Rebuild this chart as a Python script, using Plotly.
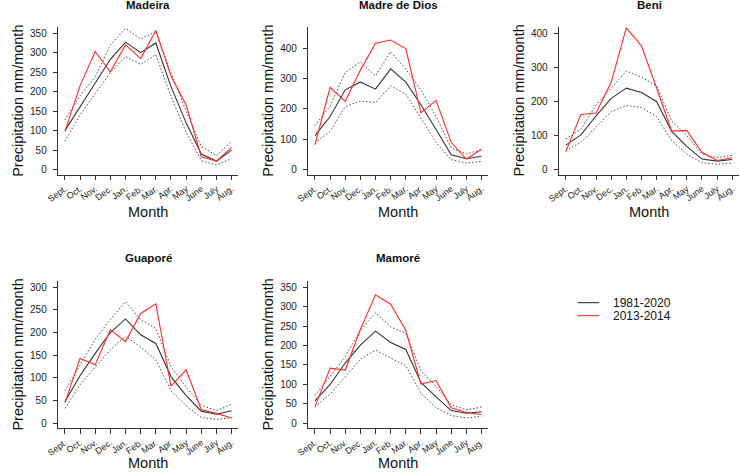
import plotly.graph_objects as go

# month order of the hydrological year
month_labels = ["Sept.", "Oct.", "Nov.", "Dec.", "Jan.", "Feb.", "Mar.", "Apr.", "May", "June", "July", "Aug."]
month_num = list(range(1, 13))

basins = ["Madeira", "Madre de Dios", "Beni", "Guaporé", "Mamoré"]
series_names = ["1981-2020", "2013-2014"]

madeira_mean = [100, 160, 220, 283, 327, 300, 325, 213, 120, 40, 22, 50]
madeira_2013 = [98, 215, 303, 251, 320, 285, 357, 240, 166, 33, 22, 57]
madeira_upper = [128, 190, 238, 320, 362, 335, 354, 249, 150, 60, 36, 73]
madeira_lower = [73, 141, 195, 249, 290, 270, 295, 188, 96, 23, 12, 28]

mdd_mean = [112, 175, 263, 289, 265, 332, 288, 214, 132, 49, 36, 44]
mdd_2013 = [82, 271, 225, 327, 416, 427, 399, 187, 228, 90, 35, 67]
mdd_upper = [145, 210, 320, 355, 309, 388, 331, 263, 175, 71, 52, 65]
mdd_lower = [88, 126, 208, 226, 221, 276, 249, 170, 90, 33, 22, 27]

beni_mean = [72, 102, 158, 209, 239, 226, 200, 112, 68, 31, 25, 30]
beni_2013 = [53, 162, 166, 256, 416, 363, 240, 113, 115, 51, 27, 35]
beni_upper = [90, 119, 190, 239, 289, 271, 246, 142, 100, 46, 35, 42]
beni_lower = [56, 80, 125, 170, 188, 182, 156, 85, 45, 20, 16, 20]

guapore_mean = [48, 105, 154, 200, 230, 195, 176, 103, 61, 27, 20, 28]
guapore_2013 = [45, 143, 129, 206, 180, 242, 263, 82, 118, 30, 22, 12]
guapore_upper = [72, 128, 185, 229, 268, 228, 209, 125, 80, 40, 28, 42]
guapore_lower = [33, 85, 124, 162, 192, 168, 140, 72, 39, 13, 9, 12]

mamore_mean = [58, 100, 155, 201, 237, 208, 190, 105, 68, 33, 26, 30]
mamore_2013 = [43, 142, 137, 241, 330, 306, 239, 101, 110, 40, 28, 23]
mamore_upper = [72, 120, 172, 240, 284, 248, 231, 135, 95, 48, 35, 42]
mamore_lower = [43, 75, 120, 165, 188, 168, 148, 78, 40, 20, 14, 18]

panels = [
    (madeira_mean, madeira_2013, madeira_upper, madeira_lower),
    (mdd_mean, mdd_2013, mdd_upper, mdd_lower),
    (beni_mean, beni_2013, beni_upper, beni_lower),
    (guapore_mean, guapore_2013, guapore_upper, guapore_lower),
    (mamore_mean, mamore_2013, mamore_upper, mamore_lower),
]

W, H = 740, 474
FONT = "Liberation Sans, Arial, Helvetica, sans-serif"
BLACK = "#333333"
RED = "#ff2b2b"
DOT = "#4a4a4a"

# plot areas in pixels (left, right) and (top, bottom)
cols = [(47.0, 230.0), (301.2, 484.0), (556.2, 738.8)]
rows = [(27.3, 175.0), (281.5, 429.3)]
cells = [(0, 0), (0, 1), (0, 2), (1, 0), (1, 1)]
yranges = [[-12.8, 365.3], [-16.4, 469], [-14.6, 417.6], [-11, 313.6], [-12.8, 365.9]]
ydticks = [50, 100, 100, 50, 50]

fig = go.Figure()
annotations = []

for i, (mean, recent, upper, lower) in enumerate(panels):
    n = "" if i == 0 else str(i + 1)
    r, c = cells[i]
    x0, x1 = cols[c]
    y0, y1 = rows[r]
    xa, ya = "x" + n, "y" + n

    for vals in (upper, lower):
        fig.add_trace(go.Scatter(x=month_num, y=vals, mode="lines", xaxis=xa, yaxis=ya,
                                 line=dict(color=DOT, width=1, dash="1.5px,2px"),
                                 showlegend=False, hoverinfo="skip"))
    fig.add_trace(go.Scatter(x=month_num, y=mean, mode="lines", xaxis=xa, yaxis=ya,
                             line=dict(color=BLACK, width=1.1), showlegend=False))
    fig.add_trace(go.Scatter(x=month_num, y=recent, mode="lines", xaxis=xa, yaxis=ya,
                             line=dict(color=RED, width=1.1), showlegend=False))

    axis_common = dict(showline=True, linecolor=BLACK, linewidth=1, showgrid=False, zeroline=False,
                       ticks="outside", ticklen=4.5, tickcolor=BLACK, tickwidth=1,
                       tickfont=dict(family=FONT, size=10, color="#222222"))
    fig.layout["xaxis" + n] = dict(axis_common, domain=[x0 / W, x1 / W], anchor=ya,
                                   range=[0.56, 12.44], tickvals=month_num, ticktext=month_labels,
                                   tickangle=-36, tickfont=dict(family=FONT, size=9, color="#222222"))
    fig.layout["yaxis" + n] = dict(axis_common, domain=[1 - y1 / H, 1 - y0 / H], anchor=xa,
                                   range=yranges[i], dtick=ydticks[i], tick0=0, ticklabelstandoff=4)

    cx = (x0 + x1) / 2 / W
    title_y = 5.5 if r == 0 else 259
    annotations.append(dict(text="<b>" + basins[i] + "</b>", x=cx, y=1 - title_y / H, xref="paper", yref="paper",
                            showarrow=False, xanchor="center", yanchor="middle",
                            font=dict(family=FONT, size=11.5, color="#111111")))
    if r == 0:
        month_pos = dict(y=1 - 212 / H, yanchor="middle")
    else:
        month_pos = dict(y=0, yanchor="bottom")
    annotations.append(dict(text="Month", x=cx, xref="paper", yref="paper",
                            showarrow=False, xanchor="center", **month_pos,
                            font=dict(family=FONT, size=14.5, color="#111111")))
    ytx = [6, 260, 515][c]
    annotations.append(dict(text="Precipitation mm/month", x=ytx / W, y=1 - (y0 + y1) / 2 / H,
                            xref="paper", yref="paper", showarrow=False, textangle=-90,
                            xanchor="center", yanchor="middle",
                            font=dict(family=FONT, size=14.5, color="#111111")))

# legend drawn by hand to match the compact base-R look
shapes = []
for k, (name, col) in enumerate(zip(series_names, [BLACK, RED])):
    ly = 303.3 + k * 13
    shapes.append(dict(type="line", xref="paper", yref="paper", x0=575 / W, x1=597 / W,
                       y0=1 - ly / H, y1=1 - ly / H, line=dict(color=col, width=1.1)))
    annotations.append(dict(text=name, x=609 / W, y=1 - ly / H, xref="paper", yref="paper",
                            showarrow=False, xanchor="left", yanchor="middle",
                            font=dict(family=FONT, size=12, color="#111111")))

fig.update_layout(width=W, height=H, margin=dict(l=0, r=0, t=0, b=0),
                  plot_bgcolor="white", paper_bgcolor="white",
                  annotations=annotations, shapes=shapes, showlegend=False)

# the page body has a default 8px margin; drop it so the figure sits at the window corner
fig.write_html("out.html", config={"displayModeBar": False},
               post_script="document.body.style.margin='0px';")
